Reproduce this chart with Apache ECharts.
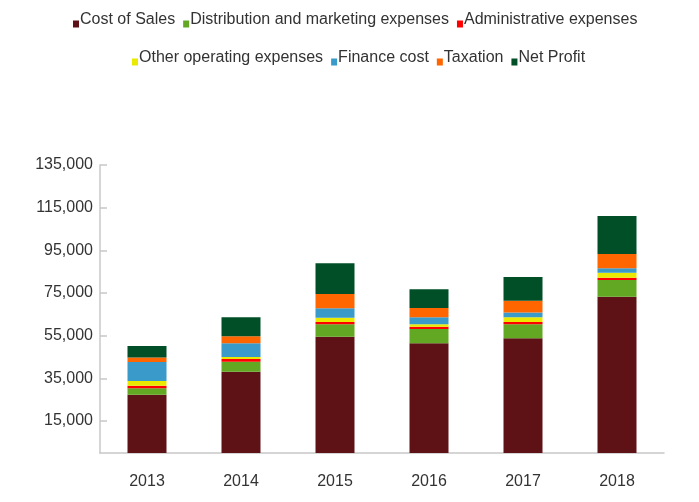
<!DOCTYPE html>
<html>
<head>
<meta charset="utf-8">
<script src="https://cdn.jsdelivr.net/npm/echarts@6/dist/echarts.min.js"></script>
<style>
html,body{margin:0;padding:0;background:#fff;}
#c{width:699px;height:502px;}
</style>
</head>
<body>
<div id="c"></div>
<script>
const years = ['2013', '2014', '2015', '2016', '2017', '2018'];
const costOfSales = [27300, 38100, 54500, 51400, 53800, 73300];
const distribution = [3100, 4700, 5800, 6700, 6600, 7800];
const administrative = [1100, 1250, 1100, 1100, 950, 1100];
const otherOperating = [2300, 950, 2000, 1100, 2300, 2300];
const financeCost = [8800, 6400, 4400, 3300, 2200, 2100];
const taxation = [2200, 3300, 6700, 4400, 5500, 6700];
const netProfit = [5400, 8900, 14400, 8800, 11100, 17800];
const yTicks = [15000, 35000, 55000, 75000, 95000, 115000, 135000];

const seriesDefs = [
  ['Cost of Sales', costOfSales, '#5F1216'],
  ['Distribution and marketing expenses', distribution, '#62A823'],
  ['Administrative expenses', administrative, '#FF0000'],
  ['Other operating expenses', otherOperating, '#EAEA00'],
  ['Finance cost', financeCost, '#3A9AC9'],
  ['Taxation', taxation, '#FF6600'],
  ['Net Profit', netProfit, '#004F27']
];

const font = '"Liberation Sans", Arial, Helvetica, sans-serif';
const iconPath = 'path://M0,0L0.01,0L0.01,0.01Z M0,8L6,8L6,15L0,15Z';
const legendCommon = {
  icon: iconPath,
  itemWidth: 6,
  itemHeight: 15,
  itemGap: 8,
  selectedMode: false,
  padding: 5,
  textStyle: { fontFamily: font, fontSize: 16, color: '#333', padding: [0, 0, 0, -4] }
};

const chart = echarts.init(document.getElementById('c'), null, { renderer: 'canvas' });
chart.setOption({
  animation: false,
  textStyle: { fontFamily: font },
  legend: [
    Object.assign({}, legendCommon, { left: 68, top: 7, data: seriesDefs.slice(0, 3).map(d => d[0]) }),
    Object.assign({}, legendCommon, { left: 127, top: 45, data: seriesDefs.slice(3).map(d => d[0]) })
  ],
  grid: { left: 100, right: 35, top: 165, bottom: 49, containLabel: false },
  xAxis: {
    type: 'category',
    data: years,
    axisLine: { lineStyle: { color: '#c8c8c8', width: 1.5 } },
    axisTick: { show: false },
    axisLabel: { color: '#333', fontSize: 16, margin: 21, fontFamily: font }
  },
  yAxis: {
    type: 'value',
    min: 0,
    max: 135000,
    axisLine: { show: true, lineStyle: { color: '#c8c8c8', width: 1.5 } },
    axisTick: { show: true, inside: true, length: 7, customValues: yTicks, lineStyle: { color: '#c8c8c8', width: 1.5 } },
    axisLabel: {
      customValues: yTicks,
      color: '#333', fontSize: 16, margin: 7, fontFamily: font,
      formatter: v => v.toLocaleString('en-US')
    },
    splitLine: { show: false }
  },
  series: seriesDefs.map(d => ({
    name: d[0],
    type: 'bar',
    stack: 'total',
    barWidth: 39,
    data: d[1],
    itemStyle: { color: d[2] }
  }))
});
</script>
</body>
</html>
